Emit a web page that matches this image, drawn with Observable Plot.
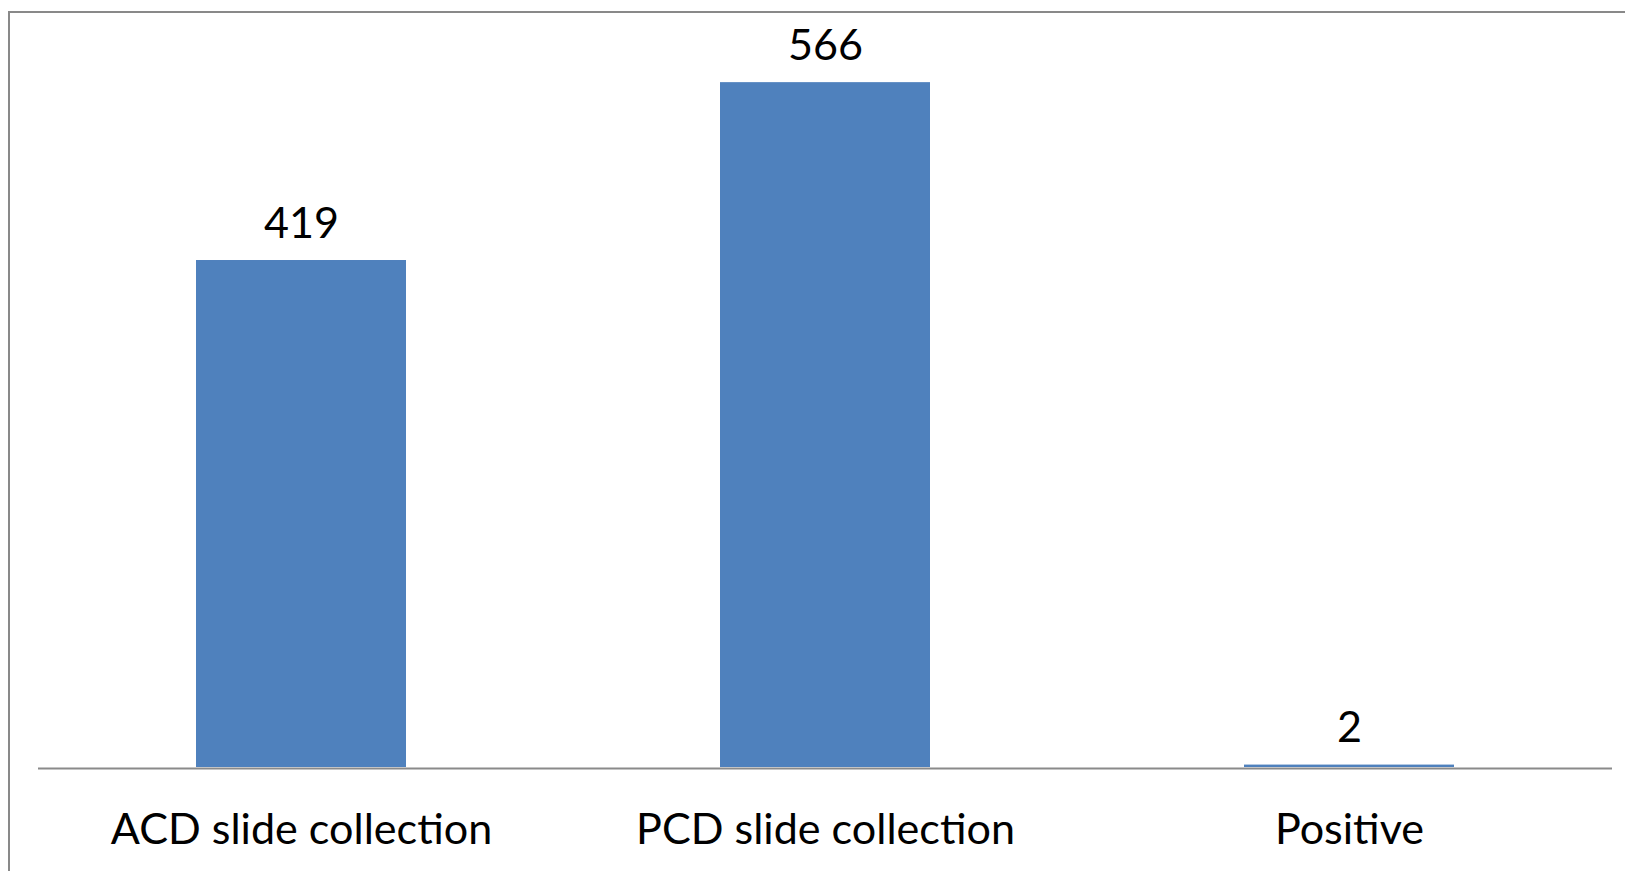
<!DOCTYPE html>
<html>
<head>
<meta charset="utf-8">
<script src="https://cdn.jsdelivr.net/npm/d3@7"></script>
<script src="https://cdn.jsdelivr.net/npm/@observablehq/plot@0.6"></script>
<style>
  html, body { margin: 0; padding: 0; background: #fff; }
  #wrap { position: relative; width: 1625px; height: 871px; overflow: hidden; }
  #border { position: absolute; left: 8px; top: 11px; width: 1700px; height: 900px;
            border-left: 2px solid #898989; border-top: 2px solid #898989; }
  #chart { position: absolute; left: 0; top: 0; }
</style>
</head>
<body>
<div id="wrap"><div id="border"></div><div id="chart"></div></div>
<script>
const categories = ["ACD slide collection", "PCD slide collection", "Positive"];
const values = [419, 566, 2];

const data = categories.map((c, i) => ({category: c, value: values[i]}));

const fontFamily = "Lato, 'Open Sans', sans-serif";
// fit font size so the category label width matches the reference (~381px)
const ctx = document.createElement("canvas").getContext("2d");
ctx.font = `100px ${fontFamily}`;
const w100 = ctx.measureText(categories[0]).width;
const fs = Math.round(100 * 381 / w100 * 10) / 10;

const baseY = 767;
const labelGap = 23;

const chart = Plot.plot({
  width: 1625,
  height: 871,
  marginLeft: 38,
  marginRight: 13,
  marginTop: 41,
  marginBottom: 871 - baseY,
  style: {fontFamily, background: "transparent"},
  x: {domain: categories, paddingInner: 0.6, paddingOuter: 0.3, axis: null},
  y: {domain: [0, 600], axis: null},
  marks: [
    Plot.ruleY([0], {stroke: "#8a8a8a", strokeWidth: 2, dy: 1}),
    Plot.barY(data, {x: "category", y: "value", fill: "#4F81BD"}),
    Plot.text(data, {x: "category", y: "value", text: d => String(d.value),
      fontSize: fs, fill: "#000", lineAnchor: "bottom", dy: -labelGap}),
    Plot.axisX({tickSize: 0, tickPadding: 843 - baseY - 0.71 * fs, fontSize: fs,
      fill: "#000", color: "#000", label: null})
  ]
});
document.getElementById("chart").appendChild(chart);
</script>
</body>
</html>
